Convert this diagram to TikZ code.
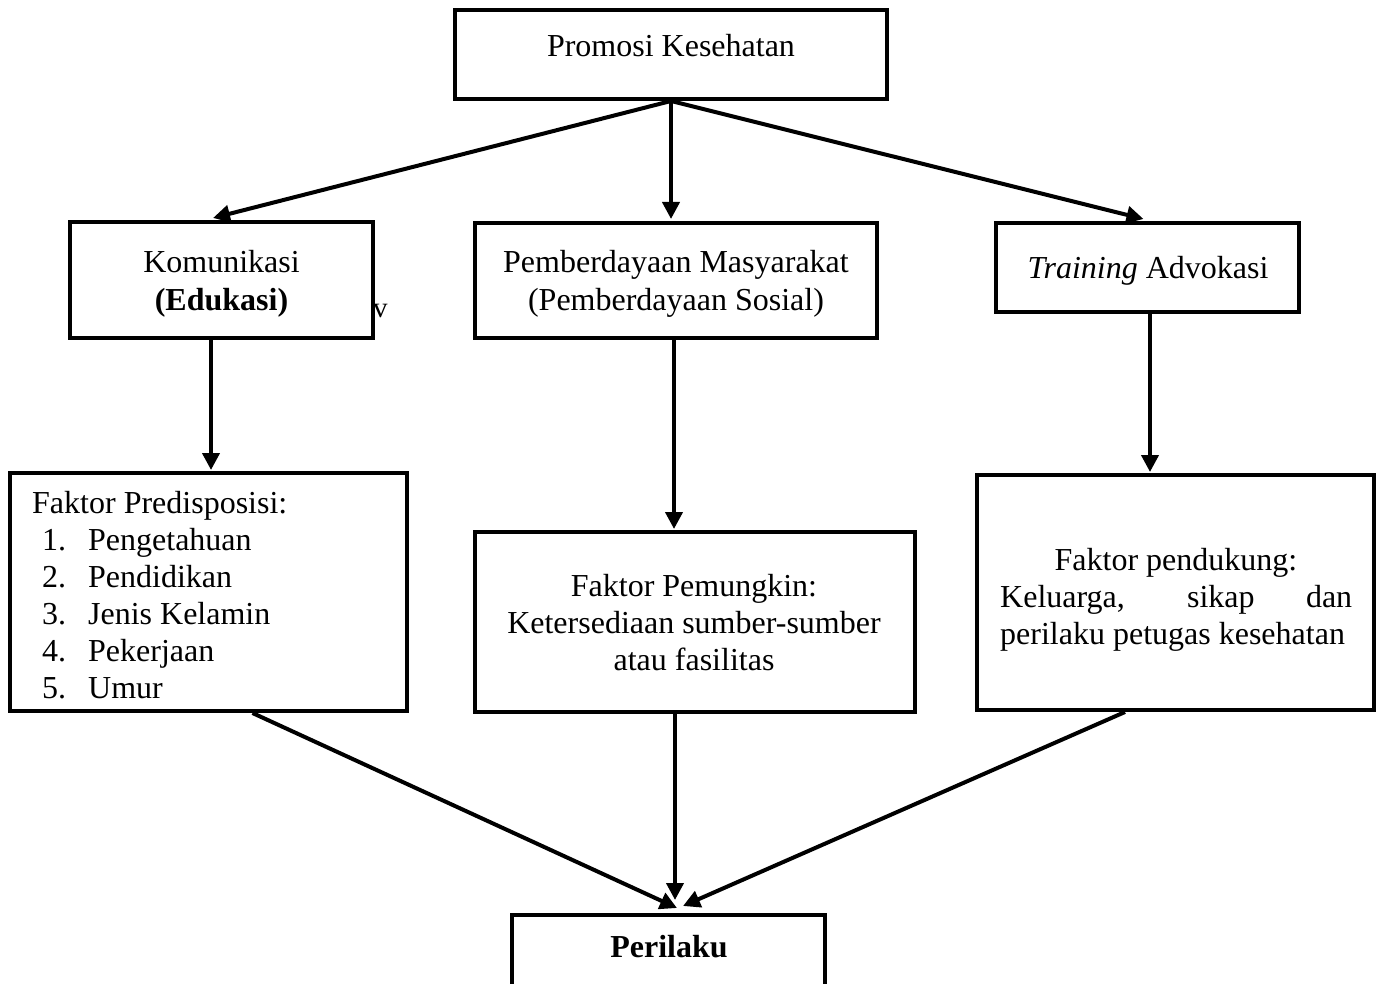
\documentclass[tikz,border=0pt]{standalone}
\usepackage{fontspec}
\setmainfont{Liberation Serif}
\usetikzlibrary{arrows.meta}
\begin{document}
\begin{tikzpicture}[x=1pt,y=-1pt,
  box/.style={draw, line width=4pt, inner sep=0pt},
  txt/.style={inner sep=0pt, font=\fontsize{32}{37}\selectfont},
  conn/.style={line width=4pt, -{Triangle[length=17pt,width=17pt]}}]
\useasboundingbox (0,0) rectangle (1384,984);
\clip (0,0) rectangle (1384,984);
% boxes
\node[box, minimum width=432pt, minimum height=89pt] (top) at (671,54.5) {};
\node[box, minimum width=303pt, minimum height=116pt] (kom) at (221.5,280) {};
\node[box, minimum width=402pt, minimum height=115pt] (pem) at (676,280.5) {};
\node[box, minimum width=303pt, minimum height=89pt] (tra) at (1147.5,267.5) {};
\node[box, minimum width=397pt, minimum height=238pt] (pre) at (208.5,592) {};
\node[box, minimum width=440pt, minimum height=180pt] (pmk) at (695,622) {};
\node[box, minimum width=397pt, minimum height=235pt] (pen) at (1175.5,592.5) {};
\node[box, minimum width=313pt, minimum height=100pt] (per) at (668.5,965) {};
% texts
\node[txt, anchor=base] (ttop) at (671,57) {Promosi Kesehatan};
\node[txt, anchor=base] (tkom) at (221.5,273) {\parbox[t]{300pt}{\centering Komunikasi\\ \textbf{(Edukasi)}}};
\node[inner sep=0pt, anchor=base west, font=\fontsize{29}{32}\selectfont] (tv) at (373,318) {v};
\node[txt, anchor=base] (tpem) at (676,273) {\parbox[t]{400pt}{\centering Pemberdayaan Masyarakat\\ (Pemberdayaan Sosial)}};
\node[txt, anchor=base] (ttra) at (1148,279) {\textit{Training} Advokasi};
\node[txt, anchor=base west] (tpre) at (32,513) {\parbox[t]{370pt}{\raggedright Faktor Predisposisi:\\
\hspace*{10pt}\makebox[46pt][l]{1.}Pengetahuan\\
\hspace*{10pt}\makebox[46pt][l]{2.}Pendidikan\\
\hspace*{10pt}\makebox[46pt][l]{3.}Jenis Kelamin\\
\hspace*{10pt}\makebox[46pt][l]{4.}Pekerjaan\\
\hspace*{10pt}\makebox[46pt][l]{5.}Umur}};
\node[txt, anchor=base] (tpmk) at (694,596) {\parbox[t]{430pt}{\centering Faktor Pemungkin:\\ Ketersediaan sumber-sumber\\ atau fasilitas}};
\node[txt, anchor=base] (tpen1) at (1176,570) {Faktor pendukung:};
\node[txt, anchor=base west] (tpen2) at (1000,607) {\parbox[t]{352pt}{\hyphenpenalty=10000\tolerance=10000\emergencystretch=100pt Keluarga, sikap dan perilaku petugas kesehatan}};
\node[txt, anchor=base] (tper) at (669,957) {\textbf{Perilaku}};
% connectors
\draw[conn] (top.south) -- ([xshift=-8.5pt,yshift=2pt]kom.north);
\draw[conn] (top.south) -- ([yshift=2pt]top.south |- pem.north);
\draw[conn] (top.south) -- ([xshift=-4pt,yshift=2pt]tra.north);
\draw[conn] ([xshift=-10.5pt]kom.south) -- ([xshift=-10.5pt,yshift=1pt]kom.south |- pre.north);
\draw[conn] ([xshift=-2pt]pem.south) -- ([xshift=-2pt,yshift=1pt]pem.south |- pmk.north);
\draw[conn] ([xshift=2.5pt]tra.south) -- ([xshift=2.5pt,yshift=1pt]tra.south |- pen.north);
\draw[conn] ([xshift=44pt]pre.south) -- ([xshift=8.5pt,yshift=5pt]per.north);
\draw[conn] ([xshift=-20pt]pmk.south) -- ([xshift=-20pt,yshift=13pt]pmk.south |- per.north);
\draw[conn] ([xshift=-50.5pt]pen.south) -- ([xshift=14.5pt,yshift=7pt]per.north);
\end{tikzpicture}
\end{document}
